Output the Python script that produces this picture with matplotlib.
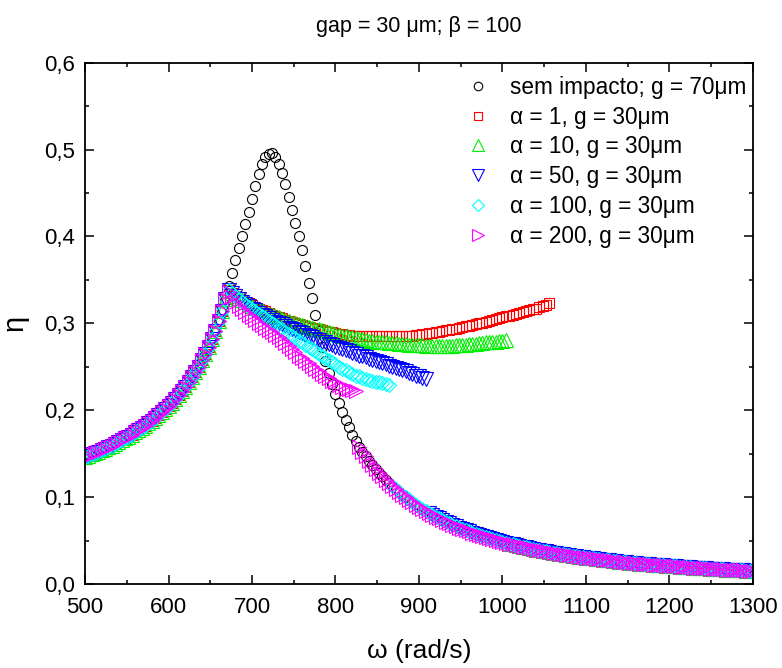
import numpy as np
import matplotlib
matplotlib.use('Agg')
import matplotlib.pyplot as plt
from matplotlib.ticker import MultipleLocator, FuncFormatter

plt.rcParams['font.family'] = ['Liberation Sans', 'DejaVu Sans']

# sweep step in omega (rad/s) and where each piece of the sweep starts
STEP = 4
RISE_START = 500     # shared branch before impact
UPPER_START = 672    # upper (impact) branches
LOWER_START = 824    # shared lower branch after the jump

# shared rising branch, 500..668
rise_eta = [0.1460, 0.1475, 0.1491, 0.1507, 0.1523, 0.1540, 0.1558, 0.1576, 0.1594, 0.1614,
            0.1634, 0.1654, 0.1676, 0.1698, 0.1721, 0.1745, 0.1770, 0.1796, 0.1823, 0.1851,
            0.1881, 0.1911, 0.1944, 0.1977, 0.2013, 0.2050, 0.2089, 0.2131, 0.2175, 0.2221,
            0.2270, 0.2323, 0.2379, 0.2439, 0.2503, 0.2573, 0.2648, 0.2729, 0.2818, 0.2915,
            0.3022, 0.3141, 0.3275]

# no impact, g = 70um : resonance peak, 672..820
black_peak = [0.343, 0.358, 0.373, 0.387, 0.401, 0.414, 0.428, 0.443, 0.458, 0.472,
              0.483, 0.491, 0.495, 0.496, 0.492, 0.484, 0.473, 0.460, 0.446, 0.431,
              0.416, 0.400, 0.384, 0.366, 0.347, 0.329, 0.310, 0.291, 0.273, 0.257,
              0.243, 0.230, 0.219, 0.208, 0.198, 0.189, 0.181, 0.172]

# shared lower branch, 824..1300
lower_eta = [0.1641, 0.1581, 0.1524, 0.1470, 0.1419, 0.1371, 0.1325, 0.1281, 0.1239, 0.1200,
             0.1162, 0.1126, 0.1091, 0.1058, 0.1027, 0.0997, 0.0968, 0.0940, 0.0914, 0.0888,
             0.0864, 0.0840, 0.0818, 0.0796, 0.0775, 0.0755, 0.0736, 0.0717, 0.0699, 0.0682,
             0.0666, 0.0650, 0.0634, 0.0619, 0.0605, 0.0591, 0.0578, 0.0565, 0.0552, 0.0540,
             0.0528, 0.0517, 0.0506, 0.0495, 0.0485, 0.0475, 0.0465, 0.0456, 0.0447, 0.0438,
             0.0429, 0.0421, 0.0413, 0.0405, 0.0397, 0.0390, 0.0383, 0.0376, 0.0369, 0.0362,
             0.0355, 0.0349, 0.0343, 0.0337, 0.0331, 0.0325, 0.0319, 0.0314, 0.0309, 0.0304,
             0.0299, 0.0294, 0.0289, 0.0284, 0.0279, 0.0275, 0.0271, 0.0267, 0.0263, 0.0259,
             0.0255, 0.0251, 0.0247, 0.0243, 0.0239, 0.0235, 0.0232, 0.0229, 0.0226, 0.0223,
             0.0220, 0.0217, 0.0214, 0.0211, 0.0208, 0.0205, 0.0202, 0.0199, 0.0196, 0.0194,
             0.0191, 0.0189, 0.0186, 0.0184, 0.0181, 0.0179, 0.0177, 0.0174, 0.0172, 0.0170,
             0.0168, 0.0166, 0.0164, 0.0162, 0.0160, 0.0158, 0.0156, 0.0154, 0.0152, 0.0150]

# upper branches, all starting at 672
red_up = [0.338, 0.335, 0.332, 0.330, 0.327, 0.325, 0.323, 0.321, 0.319, 0.317,
          0.315, 0.314, 0.312, 0.310, 0.309, 0.307, 0.306, 0.304, 0.303, 0.302,
          0.300, 0.299, 0.298, 0.297, 0.296, 0.295, 0.294, 0.293, 0.292, 0.291,
          0.290, 0.290, 0.289, 0.288, 0.288, 0.287, 0.287, 0.286, 0.286, 0.286,
          0.285, 0.285, 0.285, 0.285, 0.285, 0.285, 0.285, 0.285, 0.285, 0.285,
          0.285, 0.285, 0.286, 0.286, 0.286, 0.286, 0.287, 0.287, 0.288, 0.288,
          0.289, 0.289, 0.290, 0.290, 0.291, 0.292, 0.292, 0.293, 0.294, 0.295,
          0.296, 0.297, 0.297, 0.298, 0.299, 0.300, 0.301, 0.302, 0.303, 0.304,
          0.305, 0.306, 0.307, 0.308, 0.309, 0.310, 0.311, 0.312, 0.313, 0.314,
          0.315, 0.316, 0.317, 0.319, 0.320, 0.321, 0.323]

green_up = [0.338, 0.335, 0.332, 0.329, 0.327, 0.325, 0.322, 0.320, 0.318, 0.316,
            0.315, 0.313, 0.311, 0.310, 0.308, 0.307, 0.305, 0.304, 0.303, 0.301,
            0.300, 0.299, 0.298, 0.297, 0.296, 0.295, 0.294, 0.293, 0.292, 0.291,
            0.290, 0.289, 0.288, 0.287, 0.286, 0.285, 0.284, 0.284, 0.283, 0.282,
            0.282, 0.281, 0.280, 0.280, 0.279, 0.279, 0.278, 0.278, 0.277, 0.277,
            0.277, 0.276, 0.276, 0.276, 0.275, 0.275, 0.275, 0.275, 0.275, 0.274,
            0.274, 0.274, 0.274, 0.274, 0.274, 0.274, 0.274, 0.274, 0.275, 0.275,
            0.275, 0.275, 0.276, 0.276, 0.276, 0.277, 0.277, 0.278, 0.278, 0.279,
            0.279, 0.280, 0.280, 0.281]

blue_up = [0.338, 0.335, 0.331, 0.328, 0.325, 0.322, 0.320, 0.317, 0.315, 0.312,
           0.310, 0.308, 0.306, 0.304, 0.302, 0.300, 0.299, 0.297, 0.295, 0.294,
           0.292, 0.290, 0.289, 0.287, 0.285, 0.284, 0.282, 0.281, 0.279, 0.278,
           0.276, 0.275, 0.273, 0.272, 0.270, 0.269, 0.268, 0.266, 0.265, 0.263,
           0.262, 0.261, 0.259, 0.258, 0.257, 0.255, 0.254, 0.253, 0.251, 0.250,
           0.249, 0.247, 0.246, 0.245, 0.243, 0.242, 0.240, 0.239, 0.237, 0.236]

cyan_up = [0.338, 0.335, 0.331, 0.328, 0.325, 0.322, 0.319, 0.317, 0.314, 0.311,
           0.308, 0.306, 0.303, 0.300, 0.298, 0.295, 0.293, 0.290, 0.288, 0.285,
           0.283, 0.280, 0.278, 0.275, 0.273, 0.270, 0.268, 0.265, 0.263, 0.260,
           0.258, 0.255, 0.253, 0.250, 0.248, 0.246, 0.244, 0.242, 0.240, 0.239,
           0.237, 0.236, 0.235, 0.234, 0.233, 0.232, 0.231, 0.230, 0.229]

magenta_up = [0.336, 0.330, 0.325, 0.320, 0.316, 0.313, 0.310, 0.307, 0.304, 0.301,
              0.298, 0.295, 0.292, 0.290, 0.287, 0.284, 0.281, 0.277, 0.274, 0.270,
              0.267, 0.263, 0.260, 0.257, 0.254, 0.251, 0.248, 0.245, 0.242, 0.239,
              0.237, 0.234, 0.232, 0.229, 0.227, 0.225, 0.224, 0.223, 0.222]


def omega(start, n):
    return start + STEP * np.arange(n)


w_rise = omega(RISE_START, len(rise_eta))
w_low = omega(LOWER_START, len(lower_eta))


def sweep(up):
    # rising branch -> own upper branch -> jump down onto the lower branch
    w_up = omega(UPPER_START, len(up))
    j = np.searchsorted(w_low, w_up[-1], side='right')
    w = np.concatenate([w_rise, w_up, w_low[j:]])
    eta = np.concatenate([rise_eta, up, lower_eta[j:]])
    return w, eta


fig = plt.figure(figsize=(7.82, 6.68), dpi=100)
ax = fig.add_axes([0.1087, 0.1257, 0.8542, 0.7804])

# no-impact curve goes underneath everything
w_black = np.concatenate([w_rise, omega(UPPER_START, len(black_peak)), w_low])
eta_black = np.concatenate([rise_eta, black_peak, lower_eta])
ax.plot(w_black, eta_black, ls='none', marker='o', ms=7.2, mfc='none', mec='black',
        mew=0.8, label=u'sem impacto; g = 70\u03bcm')

series = [
    (red_up, 's', 7.0, '#ff0000', u'\u03b1 = 1, g = 30\u03bcm'),
    (green_up, '^', 9.5, '#00ee00', u'\u03b1 = 10, g = 30\u03bcm'),
    (blue_up, 'v', 9.5, '#0000ff', u'\u03b1 = 50, g = 30\u03bcm'),
    (cyan_up, 'D', 7.2, '#00ffff', u'\u03b1 = 100, g = 30\u03bcm'),
    (magenta_up, '>', 9.5, '#ff00ff', u'\u03b1 = 200, g = 30\u03bcm'),
]
for up, mk, ms, col, lab in series:
    w, eta = sweep(up)
    ax.plot(w, eta, ls='none', marker=mk, ms=ms, mfc='none', mec=col, mew=0.8, label=lab)

ax.set_xlim(500, 1300)
ax.set_ylim(0, 0.6)
ax.xaxis.set_major_locator(MultipleLocator(100))
ax.xaxis.set_minor_locator(MultipleLocator(50))
ax.yaxis.set_major_locator(MultipleLocator(0.1))
ax.yaxis.set_minor_locator(MultipleLocator(0.05))
ax.yaxis.set_major_formatter(FuncFormatter(lambda v, p: ('%.1f' % v).replace('.', ',')))

ax.tick_params(which='both', direction='in', top=True, right=True, width=1.1,
               labelsize=16, colors='black')
ax.tick_params(which='major', length=6.5)
ax.tick_params(which='minor', length=3)
ax.tick_params(axis='x', which='major', pad=9)
ax.tick_params(axis='y', which='major', pad=7)
for sp in ax.spines.values():
    sp.set_linewidth(1.3)

ax.set_xlabel(u'\u03c9 (rad/s)', fontsize=19)
ax.xaxis.set_label_coords(0.5, -0.106)
ax.set_ylabel(u'\u03b7', fontsize=21)
ax.yaxis.set_label_coords(-0.085, 0.5)

fig.text(0.536, 0.96, u'gap = 30 \u03bcm; \u03b2 = 100', ha='center', va='center', fontsize=15.5)

ax.legend(loc='upper right', bbox_to_anchor=(1.0, 0.988), frameon=False, fontsize=16.3,
          numpoints=1, markerscale=0.85, handlelength=1.2, handletextpad=0.8,
          labelspacing=0.3, borderaxespad=0.0, borderpad=0.3)

fig.savefig('out.png', dpi=100)
